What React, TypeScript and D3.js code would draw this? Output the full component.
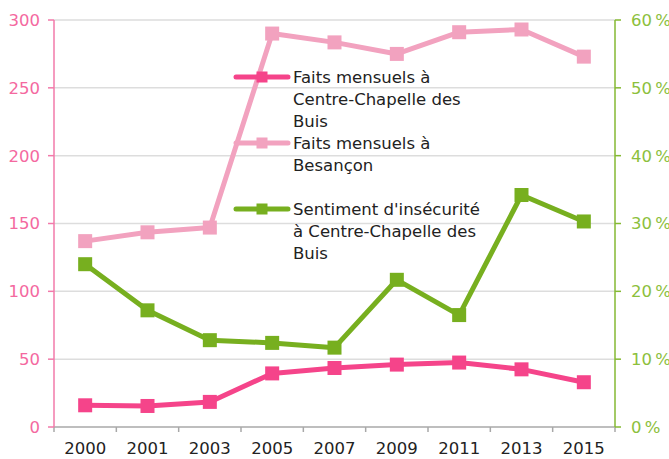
import React from "react";
import * as d3 from "d3";

const years = ["2000", "2001", "2003", "2005", "2007", "2009", "2011", "2013", "2015"];
const faitsCentre = [16, 15.5, 18.5, 39.5, 43.5, 46, 47.5, 42.5, 33];
const faitsBesancon = [137, 143.5, 147, 290, 283.5, 275, 291, 293, 273];
const sentiment = [24, 17.2, 12.8, 12.4, 11.7, 21.7, 16.5, 34.2, 30.3];
const leftTicks = [0, 50, 100, 150, 200, 250, 300];
const rightTicks = [0, 10, 20, 30, 40, 50, 60];
const legendItems = [
  { lines: ["Faits mensuels à", "Centre-Chapelle des", "Buis"], color: "#F5448A" },
  { lines: ["Faits mensuels à", "Besançon"], color: "#F2A2BF" },
  { lines: ["Sentiment d'insécurité", "à Centre-Chapelle des", "Buis"], color: "#77AF1F" },
];

const W = 669;
const H = 459;
const M = { left: 54, right: 615, top: 20, bottom: 427 };
const FONT = "'DejaVu Sans', sans-serif";

export default function App() {
  const x = d3.scaleBand<string>().domain(years).range([M.left, M.right]).paddingInner(0).paddingOuter(0);
  const yL = d3.scaleLinear().domain([0, 300]).range([M.bottom, M.top]);
  const yR = d3.scaleLinear().domain([0, 60]).range([M.bottom, M.top]);
  const cx = (d: string) => (x(d) as number) + x.bandwidth() / 2;

  const lineL = d3.line<number>().x((_, i) => cx(years[i])).y((v) => yL(v));
  const lineR = d3.line<number>().x((_, i) => cx(years[i])).y((v) => yR(v));

  const series = [
    { vals: faitsBesancon, color: "#F2A2BF", line: lineL, y: yL },
    { vals: faitsCentre, color: "#F5448A", line: lineL, y: yL },
    { vals: sentiment, color: "#77AF1F", line: lineR, y: yR },
  ];
  const ms = 14;
  const boundaries = years.map((d) => x(d) as number).concat([M.right]);

  return (
    <svg width={W} height={H} style={{ position: "absolute", left: 0, top: 0 }} fontFamily={FONT}>
      <rect width={W} height={H} fill="#fff" />
      {leftTicks.slice(1).map((t) => (
        <line key={t} x1={M.left} x2={M.right} y1={yL(t)} y2={yL(t)} stroke="#DDDDDD" strokeWidth={1.5} />
      ))}
      {/* bottom axis */}
      <line x1={M.left} x2={M.right} y1={M.bottom} y2={M.bottom} stroke="#A8A8A8" strokeWidth={1.5} />
      {boundaries.map((b, i) => (
        <line key={i} x1={b} x2={b} y1={M.bottom} y2={M.bottom + 5} stroke="#A8A8A8" strokeWidth={1.5} />
      ))}
      {years.map((d) => (
        <text key={d} x={cx(d)} y={454} textAnchor="middle" fontSize={16.5} fill="#222">
          {d}
        </text>
      ))}
      {/* left axis */}
      <line x1={M.left} x2={M.left} y1={M.top} y2={M.bottom} stroke="#F27AAA" strokeWidth={1.5} />
      {leftTicks.map((t) => (
        <g key={t}>
          <line x1={M.left - 6} x2={M.left} y1={yL(t)} y2={yL(t)} stroke="#F27AAA" strokeWidth={1.5} />
          <text x={40} y={yL(t)} dy="0.36em" textAnchor="end" fontSize={16.5} fill="#F4699F">
            {t}
          </text>
        </g>
      ))}
      {/* right axis */}
      <line x1={M.right} x2={M.right} y1={M.top} y2={M.bottom} stroke="#85B933" strokeWidth={1.5} />
      {rightTicks.map((t) => (
        <g key={t}>
          <line x1={M.right} x2={M.right + 6} y1={yR(t)} y2={yR(t)} stroke="#85B933" strokeWidth={1.5} />
          <text x={631} y={yR(t)} dy="0.36em" textAnchor="start" fontSize={16.5} fill="#8CC03C">
            {t + "\u202F%"}
          </text>
        </g>
      ))}
      {/* series */}
      {series.map((s, si) => (
        <g key={si}>
          <path d={s.line(s.vals) || ""} fill="none" stroke={s.color} strokeWidth={5} strokeLinejoin="round" />
          {s.vals.map((v, i) => (
            <rect key={i} x={cx(years[i]) - ms / 2} y={s.y(v) - ms / 2} width={ms} height={ms} fill={s.color} />
          ))}
        </g>
      ))}
      {/* legend */}
      {legendItems.map((it, i) => {
        const y0 = 77 + i * 66;
        return (
          <g key={i}>
            <line x1={236} x2={288} y1={y0} y2={y0} stroke={it.color} strokeWidth={5} strokeLinecap="round" />
            <rect x={262 - 5.5} y={y0 - 5.5} width={11} height={11} fill={it.color} />
            {it.lines.map((l, j) => (
              <text key={j} x={293} y={y0 + j * 22} dy="0.36em" fontSize={16.5} fill="#222">
                {l}
              </text>
            ))}
          </g>
        );
      })}
    </svg>
  );
}
